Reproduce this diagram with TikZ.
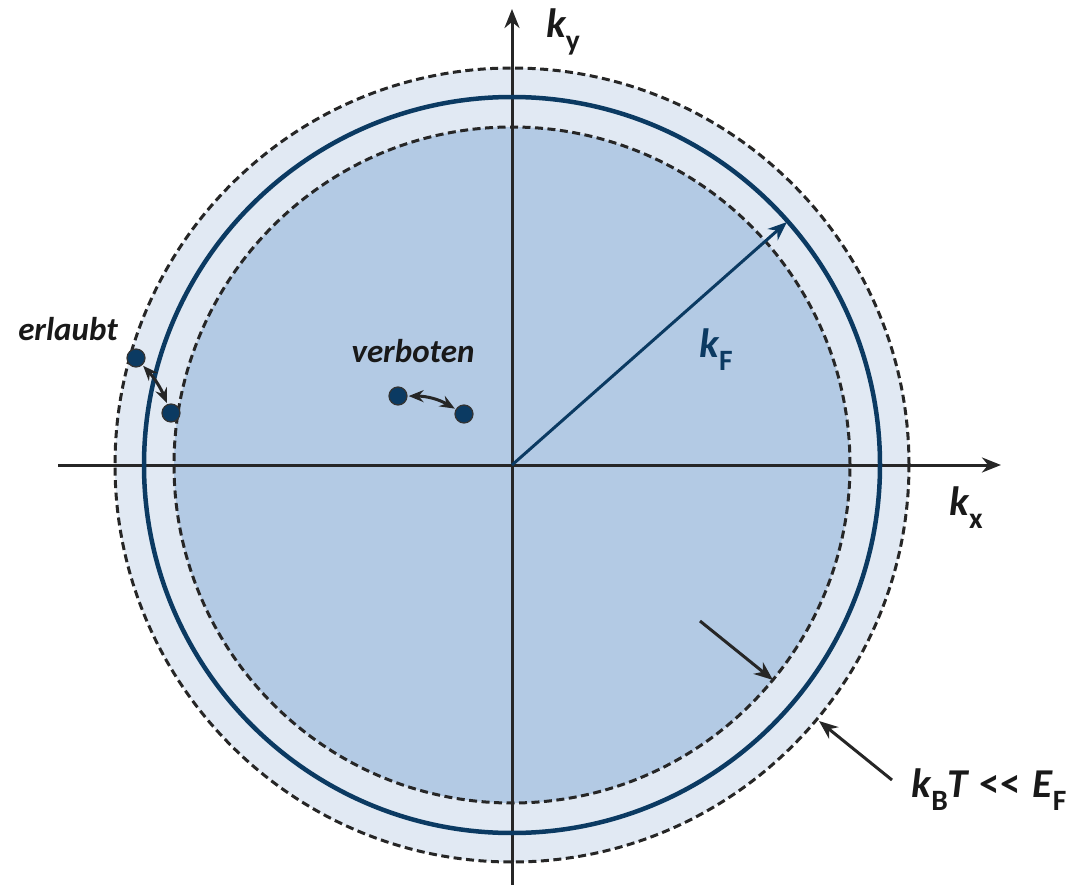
\documentclass[tikz,border=0pt]{standalone}
\usepackage{fontspec}
\setmainfont{Carlito}
\usetikzlibrary{arrows.meta}
\definecolor{ringfill}{HTML}{E1E9F3}
\definecolor{corefill}{HTML}{B3CAE4}
\definecolor{navy}{HTML}{0B3A62}
\newcommand\lowsub[1]{\raisebox{-0.32em}{\scalebox{0.72}{\upshape #1}}}
\tikzset{
  axisline/.style={line width=3pt, draw={black!85}, -{Stealth[length=19pt,width=15pt,inset=6pt]}},
  dashcircle/.style={line width=3pt, draw={black!85}, dash pattern=on 8pt off 4.5pt},
  fermicircle/.style={line width=4.5pt, draw=navy},
  dot/.style={circle, fill=navy, draw=black!80, line width=1.2pt, minimum size=18pt, inner sep=0pt},
  pairarrow/.style={line width=3pt, draw={black!85}, {Stealth[length=15pt,width=12pt,inset=5pt]}-{Stealth[length=15pt,width=12pt,inset=5pt]}, shorten <=1pt, shorten >=1pt},
  ptrarrow/.style={line width=3pt, draw={black!85}, -{Stealth[length=19pt,width=15pt,inset=6pt]}},
  lbl/.style={font=\fontsize{33}{38}\selectfont\bfseries\itshape, text={black!90}, inner sep=0pt},
  biglbl/.style={font=\fontsize{41}{46}\selectfont\bfseries\itshape, text={black!90}, inner sep=0pt},
}
\begin{document}
\begin{tikzpicture}[x=1pt,y=-1pt]
\useasboundingbox (0,0) rectangle (1076,885);
\coordinate (O) at (512,465);
% fills
\fill[ringfill] (O) circle[radius=397pt];
\fill[corefill] (O) circle[radius=338pt];
% axes
\coordinate (xl) at (58,465);
\coordinate (xr) at (1001,465);
\coordinate (yb) at (512,885);
\coordinate (yt) at (512,9);
\draw[axisline] (xl) -- (xr);
\draw[axisline] (yb) -- (yt);
% circles
\draw[dashcircle] (O) circle[radius=397pt];
\draw[dashcircle] (O) circle[radius=338pt];
\draw[fermicircle] (O) circle[radius=368pt];
% kF arrow
\coordinate (kFend) at (787,222);
\draw[line width=3pt, navy, -{Stealth[length=19pt,width=15pt,inset=6pt]}] (O) -- (kFend);
% labels
\node[biglbl] (ky) at (563,32) {k\lowsub{y}};
\node[biglbl] (kx) at (966,508) {k\lowsub{x}};
\node[biglbl, text=navy] (kF) at (716,350) {k\lowsub{F}};
\node[lbl] (verb) at (413,351) {verboten};
\node[lbl] (erl) at (68,329) {erlaubt};
\node[biglbl] (kbt) at (989,790) {k\lowsub{B}T\;{\upshape <\kern1pt<}\;E\lowsub{F}};
% dots
\node[dot] (e1) at (136,358) {};
\node[dot] (e2) at (171,413) {};
\node[dot] (v1) at (398,396) {};
\node[dot] (v2) at (464,414) {};
\draw[pairarrow] (e1) to[bend left=10] (e2);
\draw[pairarrow] (v1) to[bend left=15] (v2);
% thermal arrows
\coordinate (t1s) at (700,621);
\coordinate (t1e) at (773,680);
\coordinate (t2s) at (892,780);
\coordinate (t2e) at (819,721);
\draw[ptrarrow] (t1s) -- (t1e);
\draw[ptrarrow] (t2s) -- (t2e);
\end{tikzpicture}
\end{document}
